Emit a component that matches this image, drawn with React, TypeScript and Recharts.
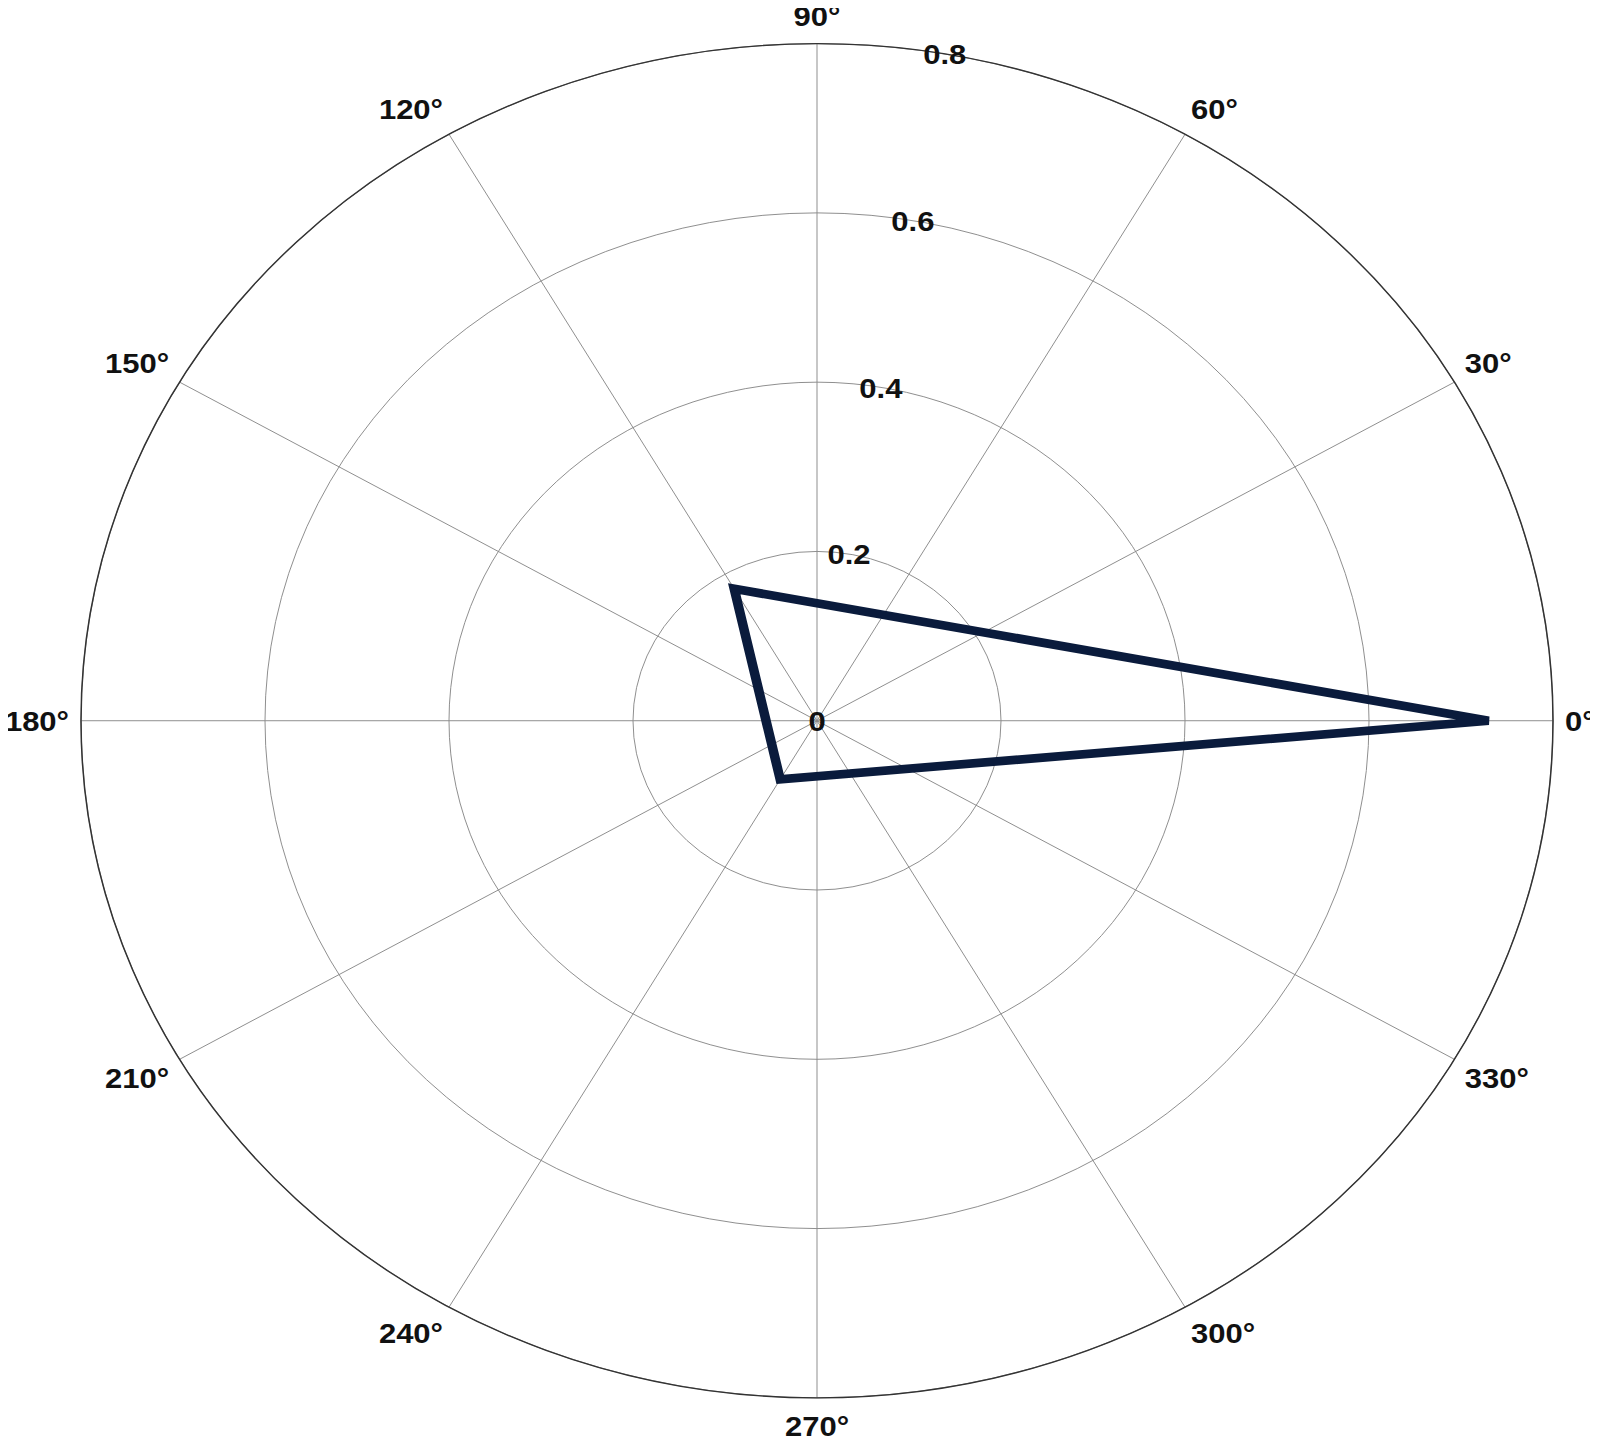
import React from 'react';
import { RadarChart, Radar, PolarGrid, PolarAngleAxis, PolarRadiusAxis } from 'recharts';

// Data: polar line (theta in degrees, rho)
const thetaDeg = [0, 120, 240];
const rhoValues = [0.73, 0.18, 0.08];

const angleTicks = [0, 30, 60, 90, 120, 150, 180, 210, 240, 270, 300, 330];
const radiusTicks = [0, 0.2, 0.4, 0.6, 0.8];
const radiusDomain = [0, 0.8];

const data = thetaDeg.map((t, i) => ({ angle: t, rho: rhoValues[i] }));

const FONT = '"Liberation Sans", Arial, Helvetica, sans-serif';
const FONT_SIZE = 31;
const CAP = FONT_SIZE * 0.716;

const CHART_W = 1598;
const CHART_H = 1570;
const CX = 817;
const CY = 783.4;
const OUTER_R = 736;
const SQUASH = 0.92;

const AngleTick = (props: any) => {
  const { x, y, payload } = props;
  const a = (Number(payload.value) * Math.PI) / 180;
  const c = Math.cos(a);
  const s = Math.sin(a);
  const anchor = c > 0.1 ? 'start' : c < -0.1 ? 'end' : 'middle';
  const yy = y - 7 * s;
  const dy = s > 0.1 ? 0 : s < -0.1 ? CAP : CAP / 2;
  return (
    <text
      x={x}
      y={yy}
      dy={dy}
      textAnchor={anchor}
      fontFamily={FONT}
      fontSize={FONT_SIZE}
      fontWeight="bold"
      fill="#111"
    >
      {`${payload.value}°`}
    </text>
  );
};

const RadiusTick = (props: any) => {
  const { x, y, payload } = props;
  return (
    <text
      x={x}
      y={y}
      dy={CAP / 2}
      textAnchor="middle"
      fontFamily={FONT}
      fontSize={FONT_SIZE}
      fontWeight="bold"
      fill="#111"
    >
      {String(payload.value)}
    </text>
  );
};

export default function App() {
  return (
    <div style={{ margin: -8, width: CHART_W, height: 1444, overflow: 'hidden', background: '#fff' }}>
      <div style={{ transform: `scaleY(${SQUASH})`, transformOrigin: '0 0' }}>
        <RadarChart
          width={CHART_W}
          height={CHART_H}
          data={data}
          cx={CX}
          cy={CY}
          innerRadius={0}
          outerRadius={OUTER_R}
          startAngle={0}
          endAngle={360}
          margin={{ top: 0, right: 0, bottom: 0, left: 0 }}
          style={{ overflow: 'visible' }}
        >
          <PolarGrid gridType="circle" stroke="#8a8a8a" strokeWidth={1} />
          <PolarAngleAxis
            dataKey="angle"
            type="number"
            domain={[0, 360]}
            ticks={angleTicks}
            tick={AngleTick}
            tickLine={false}
            tickSize={12}
            axisLineType="circle"
            axisLine={{ stroke: '#333', strokeWidth: 1.5 }}
          />
          <PolarRadiusAxis
            angle={80}
            type="number"
            scale="linear"
            domain={radiusDomain}
            allowDataOverflow={true}
            allowDecimals={true}
            tickCount={5}
            ticks={radiusTicks}
            tick={RadiusTick}
            axisLine={false}
            tickLine={false}
          />
          <Radar
            dataKey="rho"
            stroke="#0a1b3c"
            strokeWidth={9.5}
            fill="none"
            fillOpacity={0}
            dot={false}
            isAnimationActive={false}
          />
        </RadarChart>
      </div>
    </div>
  );
}
